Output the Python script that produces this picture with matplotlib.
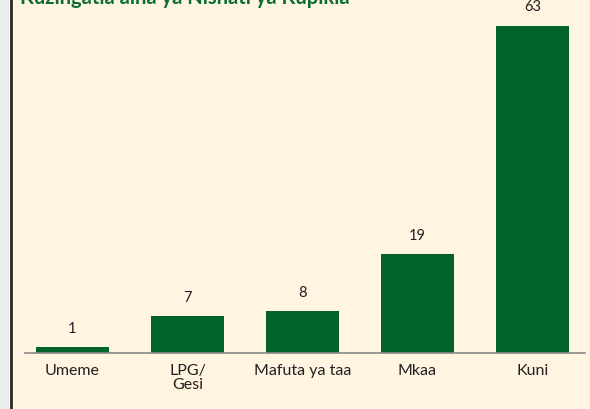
import matplotlib
matplotlib.use("Agg")
import matplotlib.pyplot as plt
from matplotlib.patches import Rectangle
from matplotlib.lines import Line2D

title = "Kuzingatia aina ya Nishati ya Kupikia"
categories = ["Umeme", "LPG/\nGesi", "Mafuta ya taa", "Mkaa", "Kuni"]
values = [1, 7, 8, 19, 63]

BG = "#fff5e1"
GREEN = "#006428"
TEXT = "#231f20"

plt.rcParams["font.family"] = ["Lato", "DejaVu Sans"]

fig = plt.figure(figsize=(5.9, 4.09), dpi=100)
fig.patch.set_facecolor(BG)

# left strip + dark border line
fig.add_artist(Rectangle((0, 0), 9 / 590, 1, transform=fig.transFigure,
                         facecolor="#e8eeea", edgecolor="none", zorder=0))
fig.add_artist(Line2D([10.5 / 590, 10.5 / 590], [0, 1], transform=fig.transFigure,
                      color="#2a2a2a", lw=2))

# axes: baseline at y=352.5px, 63 at 25.5px
W, H = 590, 409
ax_l, ax_r = 25, 585
ax_b = H - 352.5
ax_t = H  # top of figure
ax = fig.add_axes([ax_l / W, ax_b / H, (ax_r - ax_l) / W, (ax_t - ax_b) / H])
ax.set_facecolor("none")

x = list(range(len(categories)))
ax.bar(x, values, width=0.635, color=GREEN, zorder=2)
ax.set_xlim(-0.413, 4.457)
ax.set_ylim(0, 352.5 / 5.19)

for xi, v in zip(x, values):
    ax.annotate(str(v), (xi, v), xytext=(0, 8), textcoords="offset points",
                ha="center", va="bottom", fontsize=10.5, color=TEXT)

for s in ["top", "right", "left"]:
    ax.spines[s].set_visible(False)
ax.spines["bottom"].set_color("#8a8a8a")
ax.spines["bottom"].set_linewidth(1.2)
ax.set_yticks([])
ax.set_xticks(x)
ax.set_xticklabels(categories, fontsize=11.5, color=TEXT, linespacing=1.0)
ax.tick_params(axis="x", length=0, pad=8)

# title is cut off by the top edge in the reference
fig.text(20 / W, 1 - 4 / H, title, ha="left", va="baseline",
         fontsize=14.5, fontweight="bold", color="#0b6e30")

fig.savefig("out.png", dpi=100, facecolor=BG)
